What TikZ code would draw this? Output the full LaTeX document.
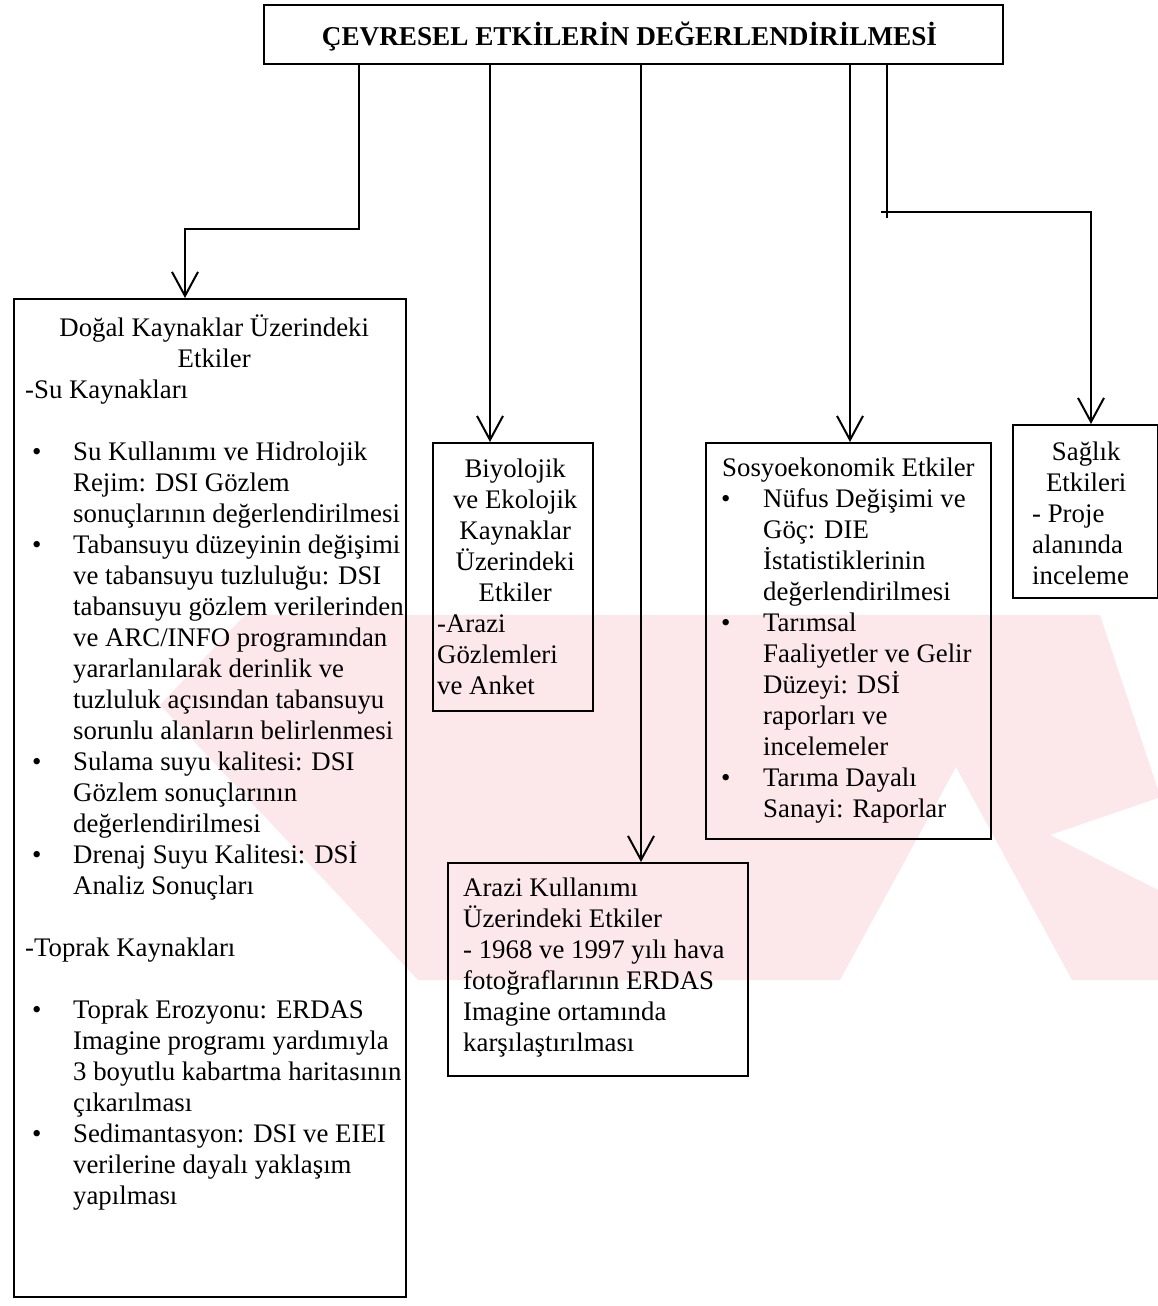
\documentclass[tikz,border=0pt]{standalone}
\usepackage{fontspec}
\setmainfont{Liberation Serif}
\usetikzlibrary{arrows.meta}
\newcommand{\bul}{\textbullet}
\definecolor{wmpink}{RGB}{252,231,235}
\begin{document}
\begin{tikzpicture}[x=1pt,y=-1pt,
  box/.style={draw, line width=2pt, inner sep=0pt, anchor=north west},
  body/.style={inner sep=0pt, anchor=base west, font=\fontsize{26.8}{31}\selectfont},
  link/.style={line width=2pt},
  arr/.style={link, -{Straight Barb[length=24pt, width=26pt, line width=2pt]}}]
\useasboundingbox (0,0) rectangle (1158,1306);

% faint background emblem
\fill[wmpink] (245,615) -- (1100,615) -- (1158,790) -- (1158,798) -- (1050,835)
  -- (1158,890) -- (1158,980) -- (1072,980) -- (956,767) -- (840,980)
  -- (418,980) -- (160,705) -- cycle;

% boxes
\node[box, minimum width=739pt, minimum height=59pt] (title) at (263,4) {};
\node[box, minimum width=392pt, minimum height=998pt] (dogal) at (13,298) {};
\node[box, minimum width=160pt, minimum height=268pt] (biyo) at (432,442) {};
\node[box, minimum width=300pt, minimum height=213pt] (arazi) at (447,862) {};
\node[box, minimum width=285pt, minimum height=396pt] (sosyo) at (705,442) {};
\node[box, minimum width=145pt, minimum height=173pt] (saglik) at (1012,424) {};

% texts
\node[body, anchor=base, font=\fontsize{27.2}{31}\selectfont] (titleTxt)
  at ([shift={(-4,-19)}]title.south) {\bfseries ÇEVRESEL ETKİLERİN DEĞERLENDİRİLMESİ};

\node[body] (dogalTxt) at ([shift={(0,38)}]dogal.north west) {%
\begin{tabular}[t]{@{}p{60pt}@{}l@{}}
\multicolumn{2}{@{}l@{}}{\makebox[402pt]{Doğal Kaynaklar Üzerindeki}}\\
\multicolumn{2}{@{}l@{}}{\makebox[402pt]{Etkiler}}\\
\multicolumn{2}{@{}l@{}}{\hspace*{12pt}-Su Kaynakları}\\
\\
\hspace*{19pt}\bul & Su Kullanımı ve Hidrolojik\\
 & Rejim: DSI Gözlem\\
 & sonuçlarının değerlendirilmesi\\
\hspace*{19pt}\bul & Tabansuyu düzeyinin değişimi\\
 & ve tabansuyu tuzluluğu: DSI\\
 & tabansuyu gözlem verilerinden\\
 & ve ARC/INFO programından\\
 & yararlanılarak derinlik ve\\
 & tuzluluk açısından tabansuyu\\
 & sorunlu alanların belirlenmesi\\
\hspace*{19pt}\bul & Sulama suyu kalitesi: DSI\\
 & Gözlem sonuçlarının\\
 & değerlendirilmesi\\
\hspace*{19pt}\bul & Drenaj Suyu Kalitesi: DSİ\\
 & Analiz Sonuçları\\
\\
\multicolumn{2}{@{}l@{}}{\hspace*{12pt}-Toprak Kaynakları}\\
\\
\hspace*{19pt}\bul & Toprak Erozyonu: ERDAS\\
 & Imagine programı yardımıyla\\
 & 3 boyutlu kabartma haritasının\\
 & çıkarılması\\
\hspace*{19pt}\bul & Sedimantasyon: DSI ve EIEI\\
 & verilerine dayalı yaklaşım\\
 & yapılması
\end{tabular}};

\node[body] (biyoTxt) at ([shift={(0,35)}]biyo.north west) {%
\begin{tabular}[t]{@{}l@{}}
\makebox[166pt]{Biyolojik}\\
\makebox[166pt]{ve Ekolojik}\\
\makebox[166pt]{Kaynaklar}\\
\makebox[166pt]{Üzerindeki}\\
\makebox[166pt]{Etkiler}\\
\hspace*{5pt}-Arazi\\
\hspace*{5pt}Gözlemleri\\
\hspace*{5pt}ve Anket
\end{tabular}};

\node[body] (araziTxt) at ([shift={(16,34)}]arazi.north west) {%
\begin{tabular}[t]{@{}l@{}}
Arazi Kullanımı\\
Üzerindeki Etkiler\\
- 1968 ve 1997 yılı hava\\
fotoğraflarının ERDAS\\
Imagine ortamında\\
karşılaştırılması
\end{tabular}};

\node[body] (sosyoTxt) at ([shift={(0,34)}]sosyo.north west) {%
\begin{tabular}[t]{@{}p{58pt}@{}l@{}}
\multicolumn{2}{@{}l@{}}{\hspace*{17pt}Sosyoekonomik Etkiler}\\
\hspace*{16pt}\bul & Nüfus Değişimi ve\\
 & Göç: DIE\\
 & İstatistiklerinin\\
 & değerlendirilmesi\\
\hspace*{16pt}\bul & Tarımsal\\
 & Faaliyetler ve Gelir\\
 & Düzeyi: DSİ\\
 & raporları ve\\
 & incelemeler\\
\hspace*{16pt}\bul & Tarıma Dayalı\\
 & Sanayi: Raporlar
\end{tabular}};

\node[body] (saglikTxt) at ([shift={(0,36)}]saglik.north west) {%
\begin{tabular}[t]{@{}l@{}}
\makebox[148pt]{Sağlık}\\
\makebox[148pt]{Etkileri}\\
\hspace*{20pt}- Proje\\
\hspace*{20pt}alanında\\
\hspace*{20pt}inceleme
\end{tabular}};

% connector ends on the title box and on the boxes below
\coordinate (s1) at ([xshift=96pt]title.south west);
\coordinate (s2) at ([xshift=227pt]title.south west);
\coordinate (s3) at ([xshift=378pt]title.south west);
\coordinate (s4) at ([xshift=587pt]title.south west);
\coordinate (s5) at ([xshift=624pt]title.south west);
\coordinate (e1) at ([xshift=172pt]dogal.north west);
\coordinate (e2) at ([xshift=57pt]biyo.north west);
\coordinate (e3) at ([xshift=194pt]arazi.north west);
\coordinate (e4) at ([xshift=143pt]sosyo.north west);
\coordinate (e5) at ([xshift=79pt]saglik.north west);
\coordinate (b1) at (s1 |- 0,229);
\coordinate (b5) at (s5 |- 0,212);
\coordinate (tick) at (s5 |- 0,218);

% connectors
\draw[arr] (s1) -- (b1) -| (e1);
\draw[arr] (s2) -- (s2 |- e2);
\draw[arr] (s3) -- (s3 |- e3);
\draw[arr] (s4) -- (s4 |- e4);
\draw[link] (s5) -- (tick);
\draw[link] ([xshift=-6pt]b5) -- (b5);
\draw[arr] (b5) -| (e5);
\end{tikzpicture}
\end{document}
